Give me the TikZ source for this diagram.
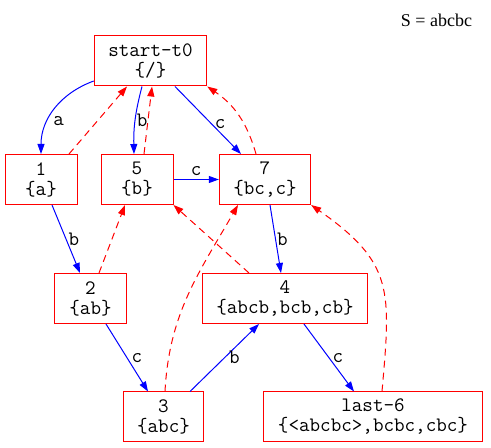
\documentclass[tikz,border=0pt]{standalone}
\usepackage{fontspec}
\setmainfont{Liberation Serif}
\usetikzlibrary{arrows.meta}

\begin{document}
\begin{tikzpicture}[x=1pt,y=1pt,
  state/.style={draw=red,line width=1pt,minimum width=72pt,minimum height=50pt,
    inner xsep=14pt,align=center,font=\ttfamily\fontsize{20.5}{20}\selectfont},
  trans/.style={blue,line width=1pt,-{Triangle[length=10pt,width=7pt]}},
  suffix/.style={red,line width=1pt,dash pattern=on 7pt off 5pt,-{Triangle[length=10pt,width=7pt]}},
  lbl/.style={text=black,font=\ttfamily\fontsize{20.5}{20}\selectfont,inner sep=1pt}]
\useasboundingbox (0,0) rectangle (491,448);

% Title
\node[font=\fontsize{18}{20}\selectfont] (title) at (436.5,428) {S = abcbc};

% States
\node[state] (start) at (150.5,387) {start-t0\\\{/\}};
\node[state] (n1) at (41,268.5) {1\\\{a\}};
\node[state] (n5) at (137,268.5) {5\\\{b\}};
\node[state] (n7) at (265,268.5) {7\\\{bc,c\}};
\node[state] (n2) at (90.5,149.5) {2\\\{ab\}};
\node[state] (n4) at (285,149.5) {4\\\{abcb,bcb,cb\}};
\node[state] (n3) at (163.5,31) {3\\\{abc\}};
\node[state] (last) at (373,31) {last-6\\\{<abcbc>,bcbc,cbc\}};

% Transitions
\draw[trans] ([yshift=-20pt]start.west) to[out=200,in=90] node[lbl,pos=0.65,right=4pt] {a} (n1.north);
\draw[trans] ([xshift=-8.5pt]start.south) to[bend right=8] node[lbl,right=0pt] {b} ([xshift=-3pt]n5.north);
\draw[trans] ([xshift=24.5pt]start.south) -- node[lbl,pos=0.55,right=2pt] {c} ([xshift=-24pt]n7.north);
\draw[trans] (n5.east) -- node[lbl,above=2pt] {c} (n7.west);
\draw[trans] ([xshift=11pt]n1.south) -- node[lbl,right=1pt] {b} ([xshift=-10.5pt]n2.north);
\draw[trans] ([xshift=5pt]n7.south) -- node[lbl,right=0pt] {b} ([xshift=-4pt]n4.north);
\draw[trans] ([xshift=15.5pt]n2.south) -- node[lbl,right=3pt] {c} ([xshift=-15.5pt]n3.north);
\draw[trans] ([xshift=26.5pt]n3.north) -- node[lbl,right=3pt] {b} ([xshift=-26pt]n4.south);
\draw[trans] ([xshift=19pt]n4.south) -- node[lbl,right=2pt] {c} ([xshift=-19pt]last.north);

% Suffix links
\draw[suffix] ([xshift=28pt]n1.north) -- ([xshift=-23.5pt]start.south);
\draw[suffix] ([xshift=7pt]n5.north) -- ([xshift=1.5pt]start.south);
\draw[suffix] ([xshift=-9pt]n7.north) to[bend right=20] (start.south east);
\draw[suffix] ([xshift=8.5pt]n2.north) -- ([xshift=-12pt]n5.south);
\draw[suffix] ([xshift=-36pt]n4.north) -- (n5.south east);
\draw[suffix] ([xshift=1.5pt]n3.north) to[out=87,in=-120] ([xshift=-27pt]n7.south);
\draw[suffix] ([xshift=9pt]last.north) to[out=85,in=-35,looseness=1.3] (n7.south east);

\end{tikzpicture}
\end{document}
